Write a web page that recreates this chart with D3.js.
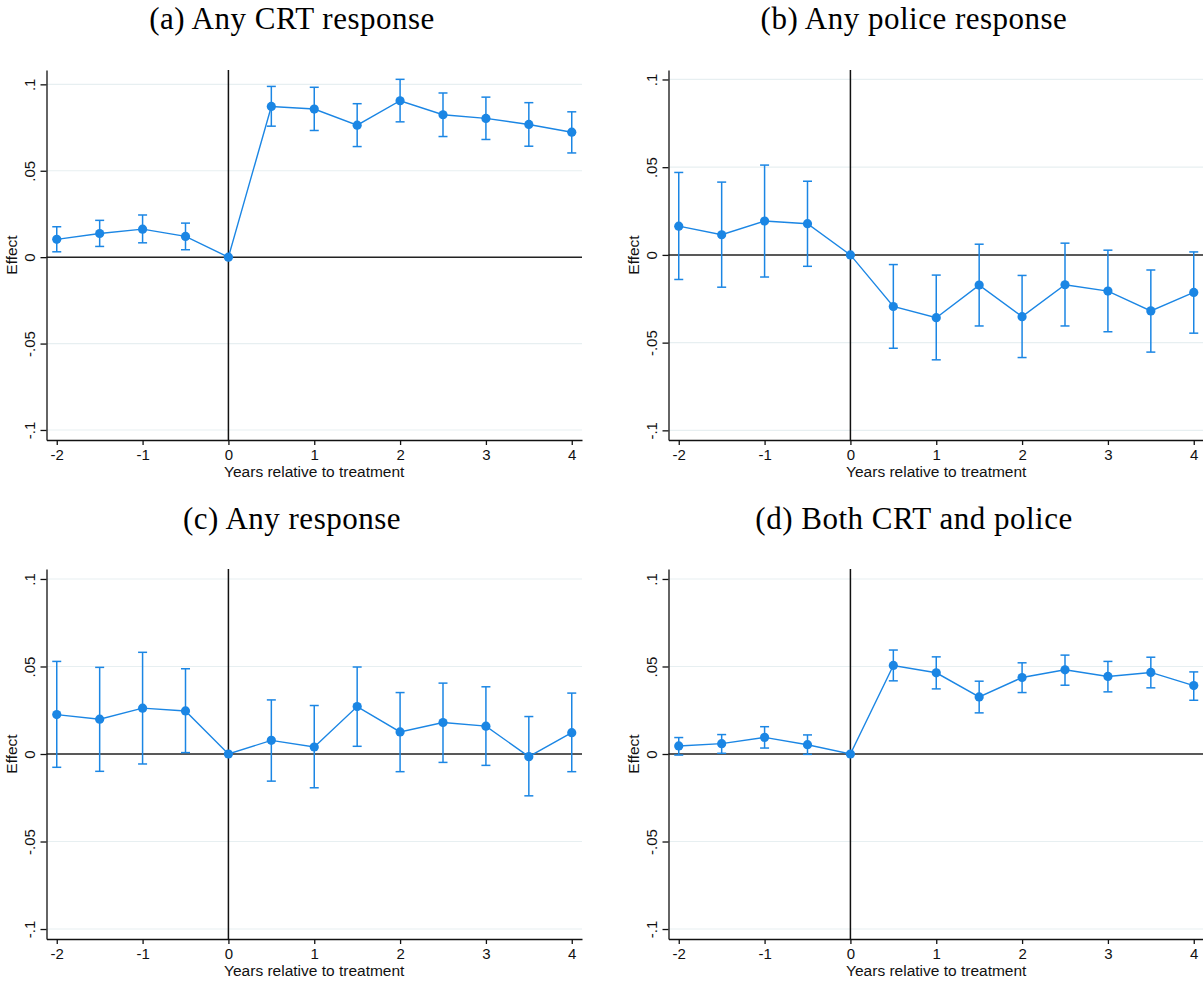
<!DOCTYPE html>
<html>
<head>
<meta charset="utf-8">
<script src="https://cdn.jsdelivr.net/npm/d3@7"></script>
<style>
  body { margin: 0; background: #fff; }
  .tick text { font-family: "Liberation Sans", Arial, sans-serif; }
</style>
</head>
<body>
<div id="chart"></div>
<script>
// event time (years relative to treatment)
const years = [-2, -1.5, -1, -0.5, 0, 0.5, 1, 1.5, 2, 2.5, 3, 3.5, 4];
const xTicks = [-2, -1, 0, 1, 2, 3, 4];
const yTicks = [-0.1, -0.05, 0, 0.05, 0.1];
const yTickLabels = ['-.1', '-.05', '0', '.05', '.1'];

// (a) Any CRT response
const crtEst = [0.0103, 0.0137, 0.0162, 0.0120, 0, 0.0872, 0.0857, 0.0764, 0.0905, 0.0824, 0.0803, 0.0768, 0.0723];
const crtLo  = [0.0031, 0.0062, 0.0083, 0.0043, null, 0.0758, 0.0733, 0.0640, 0.0783, 0.0698, 0.0681, 0.0642, 0.0603];
const crtHi  = [0.0176, 0.0213, 0.0244, 0.0197, null, 0.0988, 0.0983, 0.0888, 0.1029, 0.0950, 0.0926, 0.0894, 0.0841];

// (b) Any police response
const policeEst = [0.0164, 0.0115, 0.0193, 0.0178, 0, -0.0294, -0.0358, -0.0172, -0.0352, -0.0170, -0.0206, -0.0319, -0.0214];
const policeLo  = [-0.0140, -0.0184, -0.0126, -0.0065, null, -0.0532, -0.0598, -0.0405, -0.0585, -0.0405, -0.0438, -0.0554, -0.0446];
const policeHi  = [0.0470, 0.0415, 0.0512, 0.0420, null, -0.0055, -0.0115, 0.0061, -0.0117, 0.0067, 0.0027, -0.0086, 0.0017];

// (c) Any response
const anyEst = [0.0225, 0.0199, 0.0262, 0.0246, 0, 0.0078, 0.0040, 0.0271, 0.0126, 0.0180, 0.0159, -0.0015, 0.0122];
const anyLo  = [-0.0076, -0.0099, -0.0057, 0.0008, null, -0.0155, -0.0193, 0.0044, -0.0101, -0.0048, -0.0065, -0.0239, -0.0101];
const anyHi  = [0.0529, 0.0495, 0.0581, 0.0487, null, 0.0309, 0.0277, 0.0497, 0.0351, 0.0405, 0.0384, 0.0214, 0.0348];

// (d) Both CRT and police
const bothEst = [0.0046, 0.0059, 0.0095, 0.0053, 0, 0.0506, 0.0464, 0.0326, 0.0437, 0.0481, 0.0443, 0.0466, 0.0391];
const bothLo  = [-0.0006, 0.0004, 0.0034, -0.0002, null, 0.0418, 0.0372, 0.0235, 0.0351, 0.0393, 0.0355, 0.0378, 0.0307];
const bothHi  = [0.0094, 0.0111, 0.0156, 0.0109, null, 0.0594, 0.0555, 0.0416, 0.0521, 0.0565, 0.0529, 0.0553, 0.0469];

const W = 1203, H = 981;
const blue = '#1b86e4';
const sans = '"Liberation Sans", Arial, sans-serif';

const panels = [
  { title: '(a) Any CRT response', est: crtEst, lo: crtLo, hi: crtHi,
    titleX: 292, titleY: 29, left: 46.5, right: 582, top: 70, bottom: 440, yMin: -0.1058, yMax: 0.1083 },
  { title: '(b) Any police response', est: policeEst, lo: policeLo, hi: policeHi,
    titleX: 914, titleY: 29, left: 668.5, right: 1204, top: 70, bottom: 440, yMin: -0.1055, yMax: 0.1054 },
  { title: '(c) Any response', est: anyEst, lo: anyLo, hi: anyHi,
    titleX: 292, titleY: 529, left: 46.5, right: 582, top: 569, bottom: 939, yMin: -0.1057, yMax: 0.1057 },
  { title: '(d) Both CRT and police', est: bothEst, lo: bothLo, hi: bothHi,
    titleX: 914, titleY: 529, left: 668.5, right: 1204, top: 569, bottom: 939, yMin: -0.1057, yMax: 0.1057 }
];

const svg = d3.select('#chart').append('svg')
  .attr('width', W)
  .attr('height', H)
  .style('display', 'block')
  .style('background', '#fff');

const drawPanel = (p) => {
  const g = svg.append('g');
  // plot range padded a little beyond -2 and 4, like stata does
  const pad = (p.right - p.left - 515) / 2 / 85.83;
  const x = d3.scaleLinear()
    .domain([-2 - pad, 4 + pad])
    .range([p.left, p.right]);
  const y = d3.scaleLinear()
    .domain([p.yMin, p.yMax])
    .range([p.bottom, p.top]);

  g.append('text')
    .attr('x', p.titleX)
    .attr('y', p.titleY)
    .attr('text-anchor', 'middle')
    .style('font-family', '"Liberation Serif", "DejaVu Serif", serif')
    .style('font-size', '31px')
    .style('letter-spacing', '0.5px')
    .text(p.title);

  // gridlines
  g.selectAll('.grid').data(yTicks.filter(d => d !== 0)).enter()
    .append('line')
    .attr('x1', p.left).attr('x2', p.right)
    .attr('y1', d => y(d)).attr('y2', d => y(d))
    .attr('stroke', '#e7eff1')
    .attr('stroke-width', 1.2);

  // reference lines
  g.append('line')
    .attr('x1', p.left).attr('x2', p.right)
    .attr('y1', y(0)).attr('y2', y(0))
    .attr('stroke', '#222').attr('stroke-width', 1.5);
  g.append('line')
    .attr('x1', x(0)).attr('x2', x(0))
    .attr('y1', p.top).attr('y2', p.bottom)
    .attr('stroke', '#111').attr('stroke-width', 1.5);

  // y axis
  const yAxis = d3.axisLeft(y)
    .tickValues(yTicks)
    .tickSize(6)
    .tickSizeOuter(0)
    .tickFormat((d, i) => yTickLabels[i]);
  const ga = g.append('g')
    .attr('transform', `translate(${p.left},0)`)
    .call(yAxis);
  ga.selectAll('text')
    .attr('x', null).attr('dy', null)
    .attr('text-anchor', 'middle')
    .attr('transform', 'translate(-11.5,0) rotate(-90)')
    .style('font-size', '15px')
    .attr('fill', '#111');

  // x axis
  const xAxis = d3.axisBottom(x)
    .tickValues(xTicks)
    .tickSize(5)
    .tickSizeOuter(0)
    .tickPadding(4)
    .tickFormat(d => String(d));
  const gx = g.append('g')
    .attr('transform', `translate(0,${p.bottom})`)
    .call(xAxis);
  gx.selectAll('text').style('font-size', '15px').attr('fill', '#111');
  g.selectAll('.domain, .tick line').attr('stroke', '#111').attr('stroke-width', 1.3);

  // axis titles
  g.append('text')
    .attr('transform', `translate(${p.left - 29.5},${(p.top + p.bottom) / 2}) rotate(-90)`)
    .attr('text-anchor', 'middle')
    .style('font-family', sans)
    .style('font-size', '15.5px')
    .attr('fill', '#111')
    .text('Effect');
  g.append('text')
    .attr('x', (x(-2) + x(4)) / 2)
    .attr('y', p.bottom + 37)
    .attr('text-anchor', 'middle')
    .style('font-family', sans)
    .style('font-size', '15.5px')
    .attr('fill', '#111')
    .text('Years relative to treatment');

  const pts = years.map((d, i) => ({ t: d, est: p.est[i], lo: p.lo[i], hi: p.hi[i] }));

  // connecting line
  const line = d3.line().x(d => x(d.t)).y(d => y(d.est));
  g.append('path')
    .datum(pts)
    .attr('d', line)
    .attr('fill', 'none')
    .attr('stroke', blue)
    .attr('stroke-width', 1.4);

  // capped spikes
  const ci = pts.filter(d => d.lo !== null);
  const bars = g.selectAll('.ci').data(ci).enter().append('g');
  bars.append('line')
    .attr('x1', d => x(d.t)).attr('x2', d => x(d.t))
    .attr('y1', d => y(d.lo)).attr('y2', d => y(d.hi))
    .attr('stroke', blue).attr('stroke-width', 1.5);
  [d => d.lo, d => d.hi].forEach(f => {
    bars.append('line')
      .attr('x1', d => x(d.t) - 4.5).attr('x2', d => x(d.t) + 4.5)
      .attr('y1', d => y(f(d))).attr('y2', d => y(f(d)))
      .attr('stroke', blue).attr('stroke-width', 1.5);
  });

  // markers
  g.selectAll('.pt').data(pts).enter()
    .append('circle')
    .attr('cx', d => x(d.t))
    .attr('cy', d => y(d.est))
    .attr('r', 4.6)
    .attr('fill', blue);
};

panels.forEach(drawPanel);
</script>
</body>
</html>
